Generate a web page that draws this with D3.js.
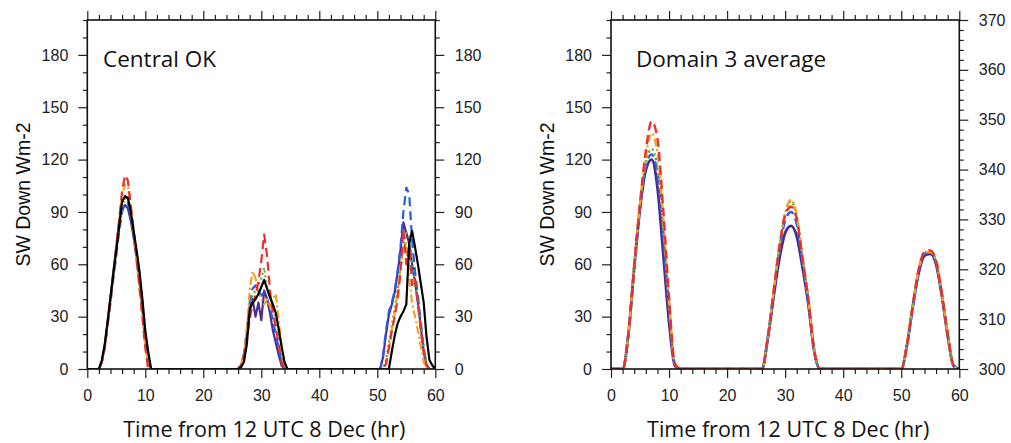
<!DOCTYPE html>
<html>
<head>
<meta charset="utf-8">
<script src="https://cdn.jsdelivr.net/npm/d3@7"></script>
<style>
  html, body { margin: 0; padding: 0; background: #fff; }
  svg { display: block; }
</style>
</head>
<body>
<svg id="chart" width="1011" height="443"></svg>
<script>
// ---- time grids (hours from 12 UTC 8 Dec) ----
// Site series: half-hourly through the three daylight windows, zero overnight
const hoursSite = [0].concat(d3.range(2, 12.5, 0.5), d3.range(26, 36.5, 0.5), d3.range(50, 60.5, 0.5));
// Domain-average series: hourly through the daylight windows
const hoursDomain = [0].concat(d3.range(2, 13, 1), d3.range(26, 37, 1), d3.range(50, 61, 1));

// ---- Central OK (W m-2) ----
const siteRed = [0,
  0,4,12,26,40,55,70,86,102,111,108,94,79,63,47,30,12,0,0,0,0,
  0,2,8,17,28,38,42,50,62,77,65,45,32,24,14,4,0,0,0,0,0,
  0,0,0,3,12,22,30,40,55,80,60,70,48,52,38,22,10,2,0,0,0];
const siteOrange = [0,
  0,4,12,26,40,55,70,85,99,106,104,92,78,62,46,30,13,2,0,0,0,
  0,2,8,22,45,56,52,44,40,37,40,35,40,43,28,12,2,0,0,0,0,
  0,0,0,3,12,22,32,44,58,70,72,52,38,30,22,13,4,0,0,0,0];
const siteGreen = [0,
  0,4,12,25,39,53,66,80,93,98,97,89,78,66,53,37,20,6,0,0,0,
  0,2,8,20,35,42,45,48,52,58,46,42,36,28,22,10,2,0,0,0,0,
  0,0,0,5,15,25,35,45,57,70,78,77,62,48,38,25,12,3,0,0,0];
const siteBlue = [0,
  0,4,12,25,38,52,65,79,90,95,95,88,78,66,53,37,20,6,0,0,0,
  0,2,8,22,38,46,48,45,42,44,40,35,28,20,12,4,0,0,0,0,0,
  0,0,8,22,33,38,45,56,70,90,104,100,74,56,42,27,12,2,0,0,0];
const sitePurple = [0,
  0,4,13,27,41,56,70,84,92,94,92,85,75,63,50,34,17,4,0,0,0,
  0,2,8,20,36,40,30,38,28,45,40,32,22,15,8,2,0,0,0,0,0,
  0,0,7,20,31,37,44,55,68,84,78,72,60,50,38,24,10,2,0,0,0];
const siteObs = [0,
  0,5,14,27,41,55,68,82,96,99,98,90,79,68,56,40,22,10,0,0,0,
  0,1,4,14,34,38,40,43,47,51,46,41,37,32,23,13,4,0,0,0,0,
  0,0,0,0,0,10,19,26,30,33,37,72,79,70,60,49,38,18,5,2,0];

// ---- Domain 3 average (W m-2) ----
const domRed    = [0, 0,20,59,95,125,142,132,91,41,3,0, 0,18,44,70,88,93,86,63,40,11,0, 0,14,37,57,67,68,62,43,20,2,0];
const domOrange = [0, 0,20,59,95,122,135,124,87,39,3,0, 0,18,44,70,89,97,88,64,40,11,0, 0,14,37,57,67,67,62,43,20,2,0];
const domGreen  = [0, 0,20,59,94,118,126,115,82,37,3,0, 0,18,44,70,89,96,87,64,40,11,0, 0,14,37,57,67,67,62,43,20,2,0];
const domBlue   = [0, 0,20,58,93,116,123,112,78,34,3,0, 0,18,43,68,85,90,83,62,39,11,0, 0,14,36,56,66,67,61,42,20,2,0];
const domPurple = [0, 0,20,58,92,114,120,104,66,27,2,0, 0,17,41,63,78,82,76,58,37,10,0, 0,14,36,55,65,66,60,42,19,2,0];

// ---- axis ticks ----
const xMajor = [0, 10, 20, 30, 40, 50, 60];
const yMajor = [0, 30, 60, 90, 120, 150, 180];
const y2Major = [300, 310, 320, 330, 340, 350, 360, 370];

const panelTitles = ["Central OK", "Domain 3 average"];
const xTitle = "Time from 12 UTC 8 Dec (hr)";
const yTitle = "SW Down Wm-2";

// ---- line styles ----
const styles = {
  purple: { color: "#4a2c92", dash: null },
  blue:   { color: "#2a5ce8", dash: "9,5" },
  green:  { color: "#5fae34", dash: "2,3" },
  orange: { color: "#f6a024", dash: "8,3,2,3" },
  red:    { color: "#e8312f", dash: "9,5" },
  black:  { color: "#000000", dash: null }
};

const svg = d3.select("#chart");
svg.append("rect").attr("width", 1011).attr("height", 443).attr("fill", "#fff");

const plotTop = 20, plotBottom = 369;
const panels = [
  { x0: 87.3, x1: 435.3, hours: hoursSite, curve: d3.curveLinear, width: 2.2,
    series: [["purple", sitePurple], ["blue", siteBlue], ["green", siteGreen],
             ["orange", siteOrange], ["red", siteRed], ["black", siteObs]],
    rightAxis: "same", title: panelTitles[0], titleX: 103, yTitleX: 29.5 },
  { x0: 611, x1: 959.3, hours: hoursDomain, curve: d3.curveMonotoneX, width: 2.4,
    series: [["purple", domPurple], ["blue", domBlue], ["green", domGreen],
             ["orange", domOrange], ["red", domRed]],
    rightAxis: "offset", title: panelTitles[1], titleX: 636, yTitleX: 553.5 }
];

const tickFont = "'Liberation Sans', Arial, Helvetica, sans-serif";
const textFont = "'Open Sans', 'Noto Sans', sans-serif";

function styleAxis(g) {
  g.select(".domain").remove();
  g.selectAll(".tick line").attr("stroke", "#222").attr("stroke-width", 1.2);
  g.selectAll(".tick text").attr("fill", "#222")
    .style("font-family", tickFont).style("font-size", "16px");
}

panels.forEach(p => {
  const x = d3.scaleLinear().domain([0, 60]).range([p.x0, p.x1]);
  const y = d3.scaleLinear().domain([0, 200]).range([plotBottom, plotTop]);
  const g = svg.append("g");

  // series
  const clipId = "clip" + Math.round(p.x0);
  svg.append("clipPath").attr("id", clipId).append("rect")
    .attr("x", p.x0).attr("y", plotTop).attr("width", p.x1 - p.x0).attr("height", plotBottom - plotTop);
  const lines = g.append("g").attr("clip-path", `url(#${clipId})`);
  p.series.forEach(([key, vals]) => {
    const st = styles[key];
    const line = d3.line().x((d, i) => x(p.hours[i])).y(d => y(d)).curve(p.curve);
    lines.append("path")
      .datum(vals)
      .attr("d", line)
      .attr("fill", "none")
      .attr("stroke", st.color)
      .attr("stroke-width", key === "purple" && p.rightAxis === "offset" ? 2.8 : p.width)
      .attr("stroke-dasharray", st.dash)
      .attr("stroke-linejoin", "round")
      .attr("stroke-linecap", st.dash ? "butt" : "round");
  });

  // minor ticks
  const xMinor = d3.range(0, 61, 2).filter(v => !xMajor.includes(v));
  const yMinor = d3.range(0, 201, 10).filter(v => !yMajor.includes(v));

  g.append("g").attr("transform", `translate(0,${plotBottom})`)
    .call(d3.axisBottom(x).tickValues(xMajor).tickSize(9).tickPadding(12).tickFormat(d3.format("d")))
    .call(styleAxis);
  g.append("g").attr("transform", `translate(0,${plotBottom})`)
    .call(d3.axisBottom(x).tickValues(xMinor).tickSize(5).tickFormat(""))
    .call(styleAxis);
  g.append("g").attr("transform", `translate(0,${plotTop})`)
    .call(d3.axisTop(x).tickValues(xMajor).tickSize(9).tickFormat(""))
    .call(styleAxis);
  g.append("g").attr("transform", `translate(0,${plotTop})`)
    .call(d3.axisTop(x).tickValues(xMinor).tickSize(5).tickFormat(""))
    .call(styleAxis);

  g.append("g").attr("transform", `translate(${p.x0},0)`)
    .call(d3.axisLeft(y).tickValues(yMajor).tickSize(9).tickPadding(10).tickFormat(d3.format("d")))
    .call(styleAxis);
  g.append("g").attr("transform", `translate(${p.x0},0)`)
    .call(d3.axisLeft(y).tickValues(yMinor).tickSize(4.5).tickFormat(""))
    .call(styleAxis);

  if (p.rightAxis === "same") {
    g.append("g").attr("transform", `translate(${p.x1},0)`)
      .call(d3.axisRight(y).tickValues(yMajor).tickSize(9).tickPadding(10.5).tickFormat(d3.format("d")))
      .call(styleAxis);
    g.append("g").attr("transform", `translate(${p.x1},0)`)
      .call(d3.axisRight(y).tickValues(yMinor).tickSize(4.5).tickFormat(""))
      .call(styleAxis);
  } else {
    const y2 = d3.scaleLinear().domain([300, 370]).range([plotBottom, plotTop]);
    const y2Minor = d3.range(300, 371, 2).filter(v => !y2Major.includes(v));
    g.append("g").attr("transform", `translate(${p.x1},0)`)
      .call(d3.axisRight(y2).tickValues(y2Major).tickSize(9).tickPadding(10.5).tickFormat(d3.format("d")))
      .call(styleAxis);
    g.append("g").attr("transform", `translate(${p.x1},0)`)
      .call(d3.axisRight(y2).tickValues(y2Minor).tickSize(4.5).tickFormat(""))
      .call(styleAxis);
  }

  // frame
  g.append("rect")
    .attr("x", p.x0).attr("y", plotTop)
    .attr("width", p.x1 - p.x0).attr("height", plotBottom - plotTop)
    .attr("fill", "none").attr("stroke", "#111").attr("stroke-width", 1.6);

  // panel title
  g.append("text")
    .attr("x", p.titleX).attr("y", 67)
    .style("font-family", textFont).style("font-size", "22.5px")
    .attr("fill", "#111")
    .text(p.title);

  // axis titles
  g.append("text")
    .attr("x", (p.x0 + p.x1) / 2 + 3).attr("y", 437)
    .attr("text-anchor", "middle")
    .style("font-family", textFont).style("font-size", "21.5px")
    .attr("fill", "#111")
    .text(xTitle);

  g.append("text")
    .attr("transform", `translate(${p.yTitleX},194.5) rotate(-90)`)
    .attr("text-anchor", "middle")
    .style("font-family", tickFont).style("font-size", "19.5px")
    .attr("fill", "#111")
    .text(yTitle);
});
</script>
</body>
</html>
